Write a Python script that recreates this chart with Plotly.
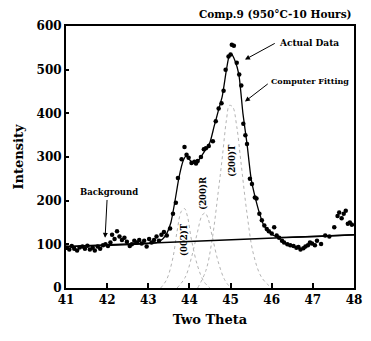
import plotly.graph_objects as go

# ---- data ----
data_x = [41.02, 41.08, 41.14, 41.20, 41.27, 41.33, 41.40, 41.46, 41.52, 41.58,
          41.65, 41.70, 41.77, 41.83, 41.90, 41.96, 42.02, 42.08, 42.12, 42.18,
          42.24, 42.30, 42.36, 42.42, 42.48, 42.55, 42.60, 42.66, 42.72, 42.78,
          42.84, 42.90, 42.96, 43.02, 43.08, 43.14, 43.20, 43.26, 43.32, 43.38,
          43.45, 43.53, 43.60, 43.67, 43.72, 43.81, 43.88, 43.93, 43.98, 44.05,
          44.12, 44.16, 44.20, 44.28, 44.35, 44.40, 44.47, 44.57, 44.64, 44.71,
          44.78, 44.83, 44.88, 44.95, 45.00, 45.03, 45.08, 45.15, 45.21, 45.26,
          45.31, 45.36, 45.40, 45.47, 45.52, 45.59, 45.63, 45.70, 45.76, 45.82,
          45.88, 45.93, 46.00, 46.06, 46.12, 46.18, 46.25, 46.30, 46.38, 46.45,
          46.53, 46.60, 46.65, 46.70, 46.77, 46.82, 46.88, 46.93, 46.98, 47.05,
          47.10, 47.20, 47.30, 47.40, 47.52, 47.60, 47.64, 47.70, 47.75, 47.80,
          47.85, 47.90, 47.95]
data_y = [92, 88, 96, 90, 86, 93, 95, 90, 97, 88,
          92, 86, 95, 90, 98, 100, 96, 104, 122, 112,
          130, 118, 110, 115, 106, 96, 100, 108, 104, 110,
          102, 108, 95, 112, 104, 110, 118, 108, 122, 128,
          120, 136, 170, 195, 252, 295, 323, 305, 298, 286,
          289, 285, 291, 300, 318, 320, 325, 336, 382, 411,
          423, 452, 500, 530, 535, 557, 555, 516, 489, 464,
          376, 350, 330, 250, 238, 207, 205, 170, 155, 143,
          135, 130, 125, 139, 120, 115, 108, 104, 100, 98,
          96, 92, 94, 88, 91, 95, 98, 104, 102, 98,
          108, 101, 120, 118, 139, 165, 173, 160, 170, 177,
          147, 150, 145]

fit_x = [41.0, 43.2, 43.35, 43.45, 43.55, 43.65, 43.75, 43.85, 43.92, 44.0,
         44.1, 44.2, 44.3, 44.4, 44.5, 44.6, 44.7, 44.8, 44.9, 44.97,
         45.03, 45.1, 45.2, 45.3, 45.4, 45.5, 45.6, 45.7, 45.8, 45.9,
         46.0, 46.1, 46.2, 48.0]
fit_y = [95, 104, 112, 125, 150, 200, 255, 292, 302, 294,
         286, 290, 303, 318, 334, 370, 405, 440, 500, 532,
         535, 522, 490, 400, 330, 250, 207, 172, 145, 132,
         123, 118, 116, 122]

bg_x = [41.0, 48.0]
bg_y = [95, 122]

comp_002T_x = [43.30, 43.45, 43.60, 43.70, 43.80, 43.88, 43.95, 44.05, 44.20, 44.35, 44.50]
comp_002T_y = [0, 20, 70, 130, 175, 182, 165, 110, 50, 15, 0]
comp_200R_x = [43.70, 43.90, 44.05, 44.20, 44.30, 44.38, 44.45, 44.55, 44.70, 44.85, 45.00]
comp_200R_y = [0, 25, 70, 130, 165, 172, 160, 120, 60, 20, 0]
comp_200T_x = [44.20, 44.40, 44.55, 44.70, 44.80, 44.90, 44.97, 45.05, 45.15, 45.25, 45.40, 45.55, 45.75, 46.00]
comp_200T_y = [0, 40, 110, 220, 300, 385, 418, 415, 370, 290, 170, 80, 25, 0]

x_ticks = [41, 42, 43, 44, 45, 46, 47, 48]
y_ticks = [0, 100, 200, 300, 400, 500, 600]

FONT = "DejaVu Serif"

fig = go.Figure()
for cx, cy in [(comp_002T_x, comp_002T_y), (comp_200R_x, comp_200R_y), (comp_200T_x, comp_200T_y)]:
    fig.add_trace(go.Scatter(x=cx, y=cy, mode="lines", line=dict(color="#b4b4b4", width=1, dash="dot", shape="spline"),
                             showlegend=False, hoverinfo="skip"))
fig.add_trace(go.Scatter(x=bg_x, y=bg_y, mode="lines", line=dict(color="black", width=1.5), showlegend=False))
fig.add_trace(go.Scatter(x=fit_x, y=fit_y, mode="lines", line=dict(color="black", width=1.3, shape="spline", smoothing=0.6),
                         showlegend=False))
fig.add_trace(go.Scatter(x=data_x, y=data_y, mode="markers", marker=dict(color="black", size=4.5), showlegend=False))

fig.update_layout(
    width=371, height=341,
    margin=dict(l=66, r=9, t=26, b=53),
    paper_bgcolor="white", plot_bgcolor="white",
    font=dict(family=FONT, color="black", size=12),
    showlegend=False,
)
fig.update_xaxes(range=[41, 48], tickvals=x_ticks, ticktext=[f"<b>{v}</b>" for v in x_ticks],
                 ticks="inside", ticklen=5, tickwidth=1.5, tickcolor="black",
                 showline=True, linewidth=2, linecolor="black", mirror=True, showgrid=False, zeroline=False,
                 tickfont=dict(size=12, family=FONT),
                 title=dict(text="<b>Two Theta</b>", font=dict(size=13, family=FONT), standoff=8))
fig.update_yaxes(range=[0, 600], tickvals=y_ticks, ticktext=[f"<b>{v}</b>" for v in y_ticks],
                 ticks="inside", ticklen=3, tickwidth=1.5, tickcolor="black",
                 showline=True, linewidth=2, linecolor="black", mirror=True, showgrid=False, zeroline=False,
                 tickfont=dict(size=12, family=FONT),
                 title=dict(text="<b>Intensity</b>", font=dict(size=13, family=FONT), standoff=10))

arrow = dict(showarrow=True, arrowhead=2, arrowsize=1, arrowwidth=1, arrowcolor="black",
             axref="x", ayref="y", text="")
annos = [
    dict(x=1.0, y=1.0, xref="paper", yref="paper", text="<b>Comp.9 (950°C-10 Hours)</b>", showarrow=False,
         xanchor="right", yanchor="bottom", yshift=4, font=dict(size=10.5)),
    dict(x=46.12, y=562, text="<b>Actual Data</b>", showarrow=False, xanchor="left", font=dict(size=9)),
    dict(arrow, x=45.35, y=523, ax=46.11, ay=562),
    dict(x=45.93, y=475, text="<b>Computer Fitting</b>", showarrow=False, xanchor="left", font=dict(size=8)),
    dict(arrow, x=45.35, y=427, ax=45.94, ay=470),
    dict(x=42.05, y=203, text="<b>Background</b>", showarrow=False, yanchor="bottom", font=dict(size=8.5)),
    dict(arrow, x=41.95, y=115, ax=42.0, ay=205),
    dict(x=43.87, y=110, text="<b>(002)T</b>", textangle=-90, showarrow=False, font=dict(size=8.5)),
    dict(x=44.33, y=218, text="<b>(200)R</b>", textangle=-90, showarrow=False, font=dict(size=8.5)),
    dict(x=45.03, y=293, text="<b>(200)T</b>", textangle=-90, showarrow=False, font=dict(size=8.5)),
]
fig.update_layout(annotations=annos)

fig.write_html("out.html")
